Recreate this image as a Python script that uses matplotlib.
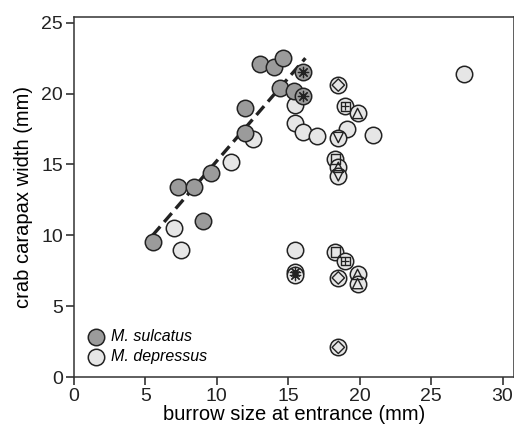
import matplotlib
matplotlib.use('Agg')
import matplotlib.pyplot as plt
import numpy as np

plt.rcParams['font.family'] = ['Liberation Sans', 'DejaVu Sans']

# M. sulcatus (dark grey)
sul_x = [5.5, 7.3, 8.4, 9.0, 9.6, 12.0, 12.0, 13.0, 14.0, 14.6, 14.4, 15.4]
sul_y = [9.5, 13.4, 13.4, 11.0, 14.4, 17.2, 19.0, 22.1, 21.9, 22.5, 20.4, 20.2]

# M. depressus (light grey)
dep_x = [7.0, 7.5, 11.0, 12.5, 15.5, 15.5, 16.0, 17.0, 27.3, 19.1, 20.9, 15.5]
dep_y = [10.5, 9.0, 15.2, 16.8, 19.2, 17.9, 17.3, 17.0, 21.4, 17.5, 17.1, 9.0]

# circles with an inner symbol: (x, y, fill group, symbol)
sym_x = [16.0, 16.0, 18.5, 19.0, 19.85, 18.5, 18.3, 18.5, 18.5,
         15.5, 15.5, 18.3, 19.0, 18.5, 19.85, 19.85, 18.5]
sym_y = [21.5, 19.8, 20.6, 19.1, 18.6, 16.9, 15.4, 14.8, 14.2,
         7.45, 7.2, 8.8, 8.2, 7.0, 7.25, 6.6, 2.1]
sym_grp = ['sul', 'sul', 'dep', 'dep', 'dep', 'dep', 'dep', 'dep', 'dep',
           'dep', 'dep', 'dep', 'dep', 'dep', 'dep', 'dep', 'dep']
sym_kind = ['ast', 'ast', 'diamond', 'boxplus', 'tri_up', 'tri_down', 'square', 'tri_up', 'tri_down',
            'ast', 'ast', 'square', 'boxplus', 'diamond', 'tri_up', 'tri_up', 'diamond']

# fitted line for M. sulcatus
fit_x = [5.5, 16.2]
fit_y = [10.0, 22.5]

dark = '#9b9b9b'
light = '#e6e6e6'
edge = '#222222'
circ = 140

fig = plt.figure(figsize=(5.14, 4.37), dpi=100)
ax = fig.add_axes([0.144, 0.137, 0.856, 0.824])

ax.plot(fit_x, fit_y, ls=(0, (3.5, 1.8)), color='#222222', lw=2.4, zorder=2)

ax.scatter(dep_x, dep_y, s=circ, c=light, edgecolors=edge, linewidths=1.1, zorder=3)
ax.scatter(sul_x, sul_y, s=circ, c=dark, edgecolors=edge, linewidths=1.1, zorder=3)

markers = {'diamond': ('D', 40), 'tri_up': ('^', 55), 'tri_down': ('v', 55),
           'square': ('s', 50), 'boxplus': ('s', 38)}
for x, y, g, k in zip(sym_x, sym_y, sym_grp, sym_kind):
    fc = dark if g == 'sul' else light
    ax.scatter([x], [y], s=circ, c=fc, edgecolors=edge, linewidths=1.1, zorder=4)
    if k == 'ast':
        ax.scatter([x], [y], s=55, marker=(8, 2, 0), c=edge, linewidths=0.9, zorder=5)
    else:
        m, s = markers[k]
        ax.scatter([x], [y], s=s, marker=m, facecolors='none', edgecolors=edge,
                   linewidths=1.0, zorder=5)
        if k == 'boxplus':
            ax.scatter([x], [y], s=38, marker='+', c=edge, linewidths=0.9, zorder=5)

# legend
h1 = ax.scatter([], [], s=circ, c=dark, edgecolors=edge, linewidths=1.1)
h2 = ax.scatter([], [], s=circ, c=light, edgecolors=edge, linewidths=1.1)
leg = ax.legend([h1, h2], ['M. sulcatus', 'M. depressus'], loc='lower left',
                frameon=False, prop={'style': 'italic', 'size': 11.5},
                handlelength=1.2, handletextpad=0.3, labelspacing=0.35,
                borderaxespad=0.4, bbox_to_anchor=(0.0, 0.0))

ax.set_xlim(0, 30.8)
ax.set_ylim(0, 25.4)
ax.set_xticks([0, 5, 10, 15, 20, 25, 30])
ax.set_yticks([0, 5, 10, 15, 20, 25])
ax.tick_params(direction='out', length=6, width=1.1, labelsize=14, colors='#222222', pad=2)
for sp in ax.spines.values():
    sp.set_linewidth(1.1)
    sp.set_color('#333333')
ax.set_xlabel('burrow size at entrance (mm)', fontsize=14.5, labelpad=0)
ax.set_ylabel('crab carapax width (mm)', fontsize=14.5, labelpad=6)

fig.savefig('out.png', dpi=100)
